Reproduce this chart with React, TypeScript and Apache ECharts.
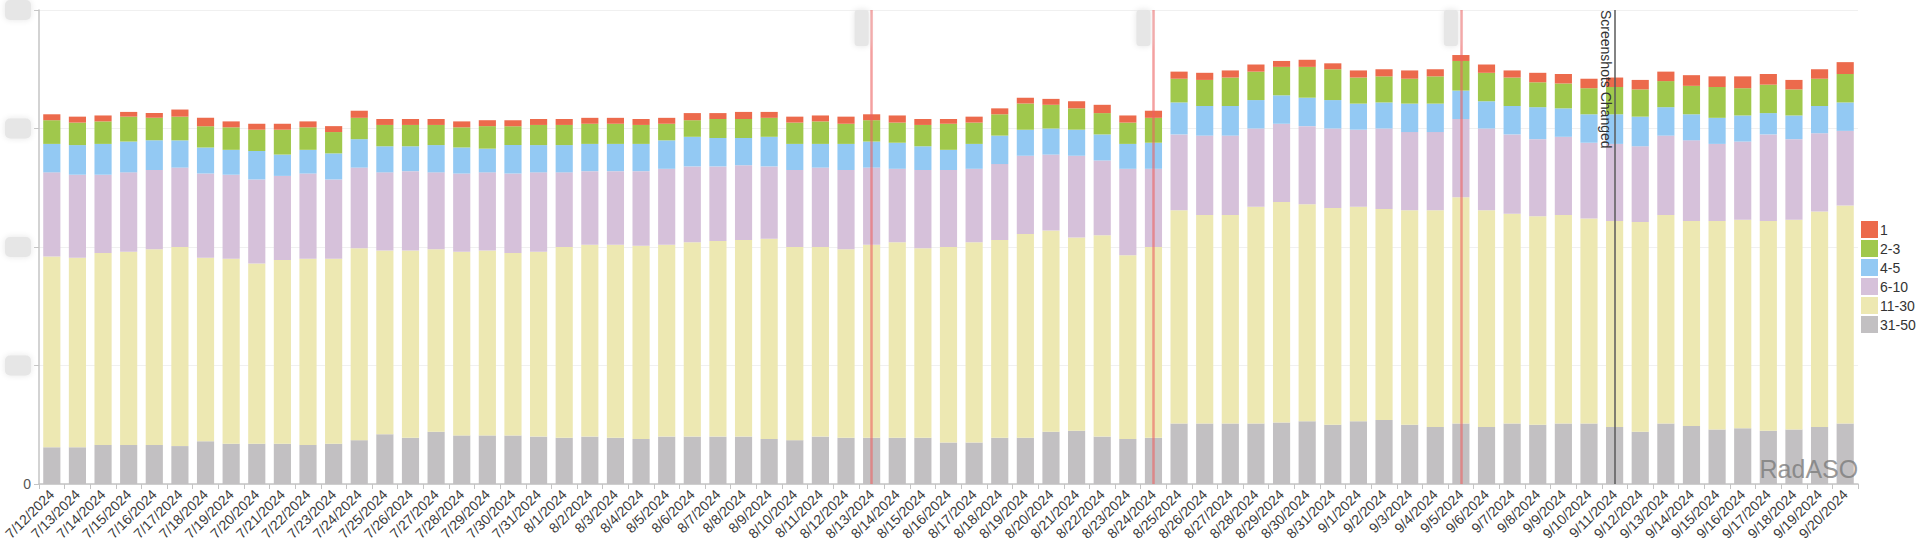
import React, { useEffect, useRef } from "react";
import * as echarts from "echarts";

const dates: string[] = [
  "7/12/2024","7/13/2024","7/14/2024","7/15/2024","7/16/2024","7/17/2024","7/18/2024","7/19/2024","7/20/2024","7/21/2024",
  "7/22/2024","7/23/2024","7/24/2024","7/25/2024","7/26/2024","7/27/2024","7/28/2024","7/29/2024","7/30/2024","7/31/2024",
  "8/1/2024","8/2/2024","8/3/2024","8/4/2024","8/5/2024","8/6/2024","8/7/2024","8/8/2024","8/9/2024","8/10/2024",
  "8/11/2024","8/12/2024","8/13/2024","8/14/2024","8/15/2024","8/16/2024","8/17/2024","8/18/2024","8/19/2024","8/20/2024",
  "8/21/2024","8/22/2024","8/23/2024","8/24/2024","8/25/2024","8/26/2024","8/27/2024","8/28/2024","8/29/2024","8/30/2024",
  "8/31/2024","9/1/2024","9/2/2024","9/3/2024","9/4/2024","9/5/2024","9/6/2024","9/7/2024","9/8/2024","9/9/2024",
  "9/10/2024","9/11/2024","9/12/2024","9/13/2024","9/14/2024","9/15/2024","9/16/2024","9/17/2024","9/18/2024","9/19/2024",
  "9/20/2024",
];

const top1: number[] = [
  5,5,5,4,4,6,7,5,5,5,5,5,6,5,
  5,5,5,5,5,5,5,5,5,5,5,6,5,6,5,5,5,
  6,5,6,5,4,5,5,5,5,6,7,6,6,
  6,6,6,6,5,6,5,
  6,6,7,6,5,7,6,8,8,8,8,8,8,9,9,10,9,8,8,10,
];
const top2to3: number[] = [
  20,19,19,21,19,20,18,19,18,21,19,18,18,18,
  18,17,17,19,16,17,17,17,17,16,14,14,16,16,16,18,19,
  17,18,17,18,22,18,18,22,20,18,18,18,21,
  20,22,24,24,24,26,26,
  22,22,21,23,25,24,24,21,21,22,23,23,22,24,26,23,24,22,23,24,
];
const top4to5: number[] = [
  24,25,26,26,25,23,22,21,24,18,20,22,24,22,
  21,23,22,20,24,23,23,23,23,23,24,25,24,23,25,22,20,
  22,22,22,20,17,21,24,22,22,22,22,21,22,
  27,25,25,24,24,24,24,
  22,22,24,24,24,23,24,27,24,24,25,25,24,22,22,22,18,20,23,24,
];
const top6to10: number[] = [
  71,70,66,67,67,67,71,71,71,71,72,67,68,66,
  67,65,66,66,67,67,63,62,62,63,64,64,63,63,61,65,67,
  67,65,62,66,65,62,64,66,64,69,63,73,66,
  64,67,67,66,66,66,67,
  65,68,66,66,66,69,67,65,66,64,65,64,67,68,65,66,73,68,66,63,
];
const top11to30: number[] = [
  161,160,162,163,165,168,155,156,152,155,157,156,162,155,
  158,154,155,156,154,156,161,162,163,163,162,164,165,166,169,163,160,
  159,163,165,160,165,169,167,172,170,163,170,155,161,
  180,176,176,183,186,183,183,
  181,178,181,183,191,183,177,176,176,173,174,177,176,173,176,176,177,177,182,184,
];
const top31to50: number[] = [
  31,31,33,33,33,32,36,34,34,34,33,34,37,42,
  39,44,41,41,41,40,39,40,39,38,40,40,40,40,38,37,40,
  39,39,39,39,35,35,39,39,44,45,40,38,39,
  51,51,51,51,52,53,50,
  53,54,50,48,51,48,51,50,51,51,48,44,51,49,46,47,45,46,48,51,
];

const legendNames: string[] = ["1", "2-3", "4-5", "6-10", "11-30", "31-50"];
const redEventDates: string[] = ["8/13/2024", "8/24/2024", "9/5/2024"];
const screenshotDate = "9/11/2024";
const screenshotLabel = "Screenshots Changed";
const yMax = 400;
const yInterval = 100;

const FONT = "'Liberation Sans', Arial, Helvetica, sans-serif";

export default function App() {
  const ref = useRef<HTMLDivElement>(null);

  useEffect(() => {
    if (!ref.current) return;
    const chart = echarts.init(ref.current, null, { renderer: "svg" });

    const seriesDefs: { name: string; data: number[]; color: string }[] = [
      { name: "31-50", data: top31to50, color: "#c2c0c2" },
      { name: "11-30", data: top11to30, color: "#ede8b2" },
      { name: "6-10", data: top6to10, color: "#d6c1da" },
      { name: "4-5", data: top4to5, color: "#93c9f3" },
      { name: "2-3", data: top2to3, color: "#a0c84c" },
      { name: "1", data: top1, color: "#ec6a4c" },
    ];

    const series: any[] = seriesDefs.map((s, i) => {
      const base: any = {
        name: s.name,
        type: "bar",
        stack: "total",
        data: s.data,
        barCategoryGap: "33%",
        itemStyle: { color: s.color },
        emphasis: { disabled: true },
      };
      if (i === seriesDefs.length - 1) {
        base.markLine = {
          silent: true,
          symbol: "none",
          animation: false,
          label: { show: false },
          data: [
            ...redEventDates.map((d) => ({
              xAxis: d,
              lineStyle: { color: "rgba(236,96,96,0.6)", width: 2.5, type: "solid" },
            })),
            {
              xAxis: screenshotDate,
              lineStyle: { color: "#5a5a5a", width: 1.5, type: "solid" },
            },
          ],
        };
      }
      return base;
    });

    chart.setOption({
      animation: false,
      backgroundColor: "#ffffff",
      textStyle: { fontFamily: FONT },
      grid: { left: 35, right: 61, top: 8, bottom: 65, containLabel: false },
      legend: {
        orient: "vertical",
        left: 1861,
        top: 221,
        padding: 0,
        data: legendNames,
        icon: "rect",
        itemWidth: 17,
        itemHeight: 17,
        itemGap: 2,
        selectedMode: false,
        textStyle: { fontSize: 14, color: "#333", fontFamily: FONT, padding: [0, 0, 0, -3] },
      },
      xAxis: {
        type: "category",
        data: dates,
        axisLine: { lineStyle: { color: "#c4c4c4", width: 1.5 } },
        axisTick: { show: true, alignWithLabel: false, length: 5, lineStyle: { color: "#c4c4c4" } },
        axisLabel: {
          rotate: 45,
          interval: 0,
          fontSize: 14,
          color: "#3a3a3a",
          margin: 8,
          fontFamily: FONT,
        },
      },
      yAxis: {
        type: "value",
        min: 0,
        max: yMax,
        interval: yInterval,
        axisLine: { show: true, lineStyle: { color: "#c4c4c4", width: 1.5 } },
        axisTick: { show: true, length: 5, lineStyle: { color: "#c4c4c4" } },
        splitLine: { show: true, lineStyle: { color: "#f0f0f0", width: 1 } },
        axisLabel: {
          margin: 8,
          fontSize: 14,
          color: "#555",
          fontFamily: FONT,
          formatter: (v: number) => (v === 0 ? "0" : "{b|\u2002\u2002\u2002\u2002}"),
          rich: {
            b: {
              backgroundColor: "#e6e6e6",
              borderRadius: 5,
              width: 26,
              height: 20,
              shadowBlur: 6,
              shadowColor: "#e6e6e6",
            },
          },
        },
      },
      series,
    });

    const yTop = chart.convertToPixel({ yAxisIndex: 0 }, yMax) as number;
    const graphics: any[] = [];
    redEventDates.forEach((d) => {
      const px = chart.convertToPixel({ xAxisIndex: 0 }, d) as number;
      graphics.push({
        type: "rect",
        silent: true,
        shape: { x: px - 17, y: yTop, width: 14, height: 36, r: 3 },
        style: { fill: "#e6e6e6", shadowBlur: 6, shadowColor: "#e4e4e4" },
        z: 20,
      });
    });
    const sx = chart.convertToPixel({ xAxisIndex: 0 }, screenshotDate) as number;
    graphics.push({
      type: "text",
      silent: true,
      x: sx - 2,
      y: yTop,
      rotation: -Math.PI / 2,
      style: {
        text: screenshotLabel,
        fontSize: 14,
        fontFamily: FONT,
        fill: "#333",
        textAlign: "left",
        textVerticalAlign: "top",
      },
      z: 20,
    });
    const bottomY = chart.convertToPixel({ yAxisIndex: 0 }, 0) as number;
    const rightX = chart.convertToPixel({ xAxisIndex: 0 }, dates[dates.length - 1]) as number;
    graphics.push({
      type: "text",
      silent: true,
      x: rightX + 13,
      y: bottomY - 3,
      style: {
        text: "RadASO",
        fontSize: 25,
        fontFamily: FONT,
        fill: "rgba(120,120,120,0.75)",
        textAlign: "right",
        textVerticalAlign: "bottom",
      },
      z: 20,
    });
    chart.setOption({ graphic: graphics });

    return () => chart.dispose();
  }, []);

  return (
    <div
      ref={ref}
      style={{ position: "fixed", left: 0, top: 0, width: 1919, height: 549 }}
    />
  );
}
